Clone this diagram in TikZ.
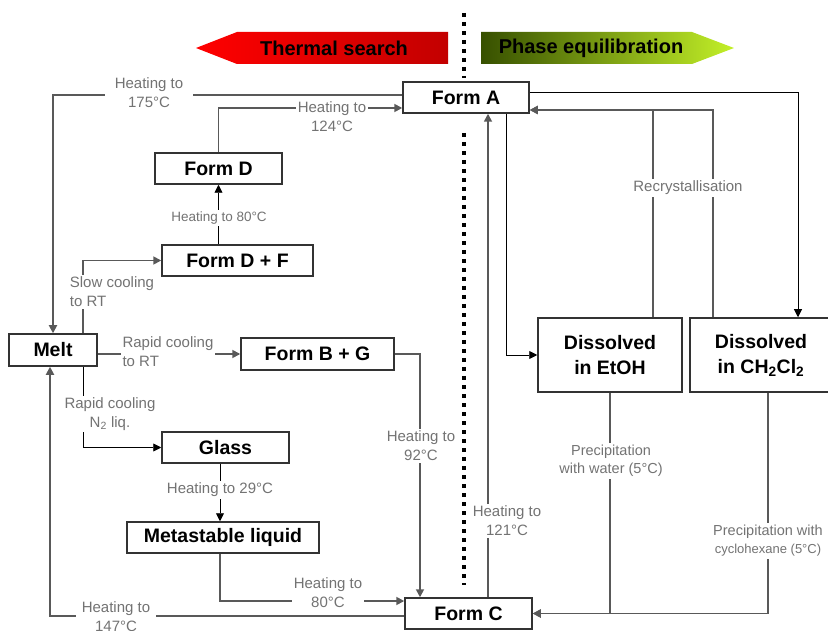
\documentclass[tikz,border=0pt]{standalone}
\usepackage{fontspec}
\setmainfont{Liberation Sans}
\usetikzlibrary{arrows.meta}
\definecolor{hotred}{RGB}{255,0,0}
\definecolor{deepred}{RGB}{195,0,0}
\definecolor{darkolive}{RGB}{55,80,0}
\definecolor{limegreen}{RGB}{195,240,40}

\begin{document}
\begin{tikzpicture}[x=1pt, y=-1pt, >={Triangle[length=8pt,width=8pt]},
  form/.style={draw=black!80, line width=1.5pt, fill=white, inner sep=0pt, align=center, font=\fontsize{19.5}{25}\selectfont\bfseries},
  lbl/.style={fill=white, inner sep=2pt, align=center, text=black!55, font=\fontsize{15}{19}\selectfont},
  small/.style={lbl, font=\fontsize{14.5}{18}\selectfont},
  conn/.style={->, draw=black!65, line width=1.7pt},
  thin/.style={->, draw=black, line width=0.9pt},
  banner/.style={font=\fontsize{20}{24}\selectfont\bfseries},
  divider/.style={line width=4pt, dash pattern=on 4pt off 5pt}
]
\useasboundingbox (0,0) rectangle (828,631);

% banners
\shade[left color=hotred, right color=deepred] (196,48) -- (237,32) -- (448,32) -- (448,64) -- (237,64) -- cycle;
\node[banner] (thermal) at (334,48) {Thermal search};
\shade[left color=darkolive, right color=limegreen] (481,32) -- (692,32) -- (734,48) -- (692,64) -- (481,64) -- cycle;
\node[banner] (phase) at (591,48) {Phase equilibration};

% forms
\node[form, minimum width=126pt, minimum height=31pt] (formA) at (466,97.5) {Form A};
\node[form, minimum width=127pt, minimum height=31pt] (formD) at (218.5,168.5) {Form D};
\node[form, minimum width=151pt, minimum height=31pt] (formDF) at (237.5,260.5) {Form D + F};
\node[form, minimum width=88pt, minimum height=32pt] (melt) at (53,350) {Melt};
\node[form, minimum width=153pt, minimum height=32pt] (formBG) at (317.5,354) {Form B + G};
\node[form, minimum width=127pt, minimum height=31pt] (glass) at (225.5,447.5) {Glass};
\node[form, minimum width=192pt, minimum height=31pt] (meta) at (223,537.5) {Metastable liquid};
\node[form, minimum width=127pt, minimum height=31pt] (formC) at (468.5,613.5) {Form C};
\node[form, minimum width=144pt, minimum height=74pt] (etoh) at (610,355) {Dissolved\\in EtOH};
\node[form, minimum width=142pt, minimum height=74pt] (dcm) at (761,355) {Dissolved\\in CH\textsubscript{2}Cl\textsubscript{2}};

% thermal search
\draw[conn] (formA.west |- 0,95) -| (melt.north);
\draw[conn] (formD.north) |- (formA.west |- 0,108);
\draw[thin] (formDF.north -| formD) -- (formD.south);
\draw[conn] (melt.north -| 83,0) |- (formDF.west);
\draw[conn] (melt.east |- formBG) -- (formBG.west);
\draw[thin] (melt.south -| 83,0) |- (glass.west);
\draw[thin] (glass.south -| 220,0) -- (meta.north -| 220,0);
\draw[conn] (meta.south -| 220,0) |- (formC.west |- 0,601);
\draw[conn] (formBG.east) -| (formC.north -| 420,0);
\draw[conn] (formC.west |- 0,616) -| (melt.south -| 50,0);
\draw[conn] (formC.north -| 488,0) -- (formA.south -| 488,0);

% phase equilibration
\draw[thin] (formA.south -| 506,0) |- (etoh.west);
\draw[thin] (formA.east |- 0,92) -| (dcm.north -| 798,0);
\draw[conn] (etoh.north -| 653,0) |- (formA.east |- 0,110);
\draw[conn] (dcm.north -| 713,0) |- (formA.east |- 0,110);
\draw[conn] (etoh.south) |- (formC.east);
\draw[conn] (dcm.south -| 768,0) |- (formC.east);

% labels
\node[lbl, inner xsep=10pt] (h175) at (149,93) {Heating to\\175°C};
\node[lbl] (h124) at (332,117) {Heating to\\124°C};
\node[small, font=\fontsize{13.5}{17}\selectfont] (h80a) at (219,218) {Heating to 80°C};
\node[lbl, align=left] (slow) at (112,292) {Slow cooling\\to RT};
\node[lbl, align=left] (rapid) at (168,352) {Rapid cooling\\to RT};
\node[lbl] (nliq) at (110,414) {Rapid cooling\\N\textsubscript{2} liq.};
\node[lbl] (h29) at (220,490) {Heating to 29°C};
\node[lbl] (h80b) at (328,593) {Heating to\\80°C};
\node[lbl] (h92) at (421,446) {Heating to\\92°C};
\node[lbl, inner xsep=6pt] (h147) at (116,617) {Heating to\\147°C};
\node[lbl] (h121) at (507,521) {Heating to\\121°C};
\node[lbl] (recry) at (688,188) {Recrystallisation};
\node[small] (water) at (611,461) {Precipitation\\with water (5°C)};
\node[small] (cyclo) at (768,541) {Precipitation with\\{\fontsize{13}{16}\selectfont cyclohexane (5°C)}};

\draw[divider] (464,13) -- (464,78);
\draw[divider] (464,133) -- (464,585);
\end{tikzpicture}
\end{document}
